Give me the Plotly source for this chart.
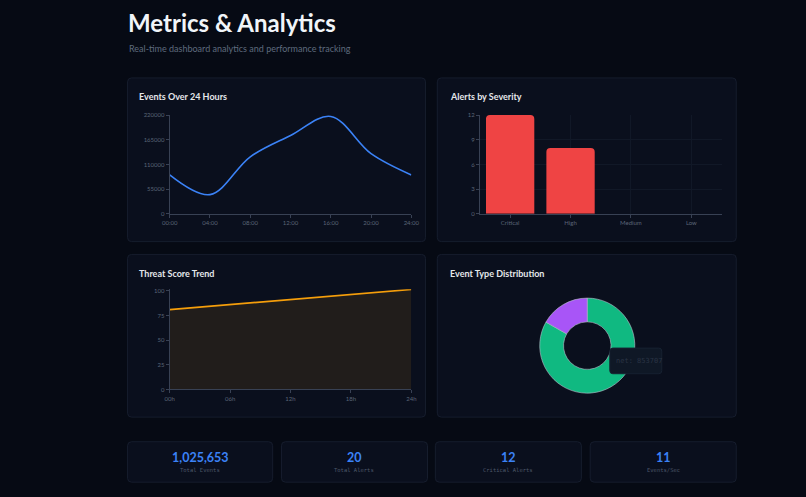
import plotly.graph_objects as go

W, H = 806, 497

# --- data -------------------------------------------------------------
event_hours = [0, 4, 8, 12, 16, 20, 24]
event_hour_labels = ["00:00", "04:00", "08:00", "12:00", "16:00", "20:00", "24:00"]
event_counts = [86500, 42500, 127000, 174500, 217000, 134000, 86500]

severities = ["Critical", "High", "Medium", "Low"]
alert_counts = [12, 8, 0, 0]

threat_hours = [0, 6, 12, 18, 24]
threat_hour_labels = ["00h", "06h", "12h", "18h", "24h"]
threat_scores = [81, 86, 91, 96, 101.5]

event_types = ["net", "system"]
event_type_counts = [853707, 171946]

stat_values = ["1,025,653", "20", "12", "11"]
stat_labels = ["Total Events", "Total Alerts", "Critical Alerts", "Events/Sec"]

# --- colours ----------------------------------------------------------
PAGE_BG = "#060a14"
CARD_BG = "#0a0f1d"
CARD_BORDER = "#161d2d"
AXIS = "#384154"
GRID = "#111827"
TICK_TXT = "#5b6577"
BLUE = "#3b82f6"
RED = "#ef4444"
AMBER = "#f59e0b"
GREEN = "#10b981"
PURPLE = "#a855f7"
FONT = "Lato"
MONO = "DejaVu Sans Mono"


def px(x):
    return x / W


def py(y):
    return 1 - y / H


def rounded_rect(x0, y0, x1, y1, r=4):
    """Rounded rectangle path in paper coords, from pixel corners."""
    pts = [
        ("M", (x0 + r, y0)), ("L", (x1 - r, y0)), ("Q", (x1, y0), (x1, y0 + r)),
        ("L", (x1, y1 - r)), ("Q", (x1, y1), (x1 - r, y1)),
        ("L", (x0 + r, y1)), ("Q", (x0, y1), (x0, y1 - r)),
        ("L", (x0, y0 + r)), ("Q", (x0, y0), (x0 + r, y0)),
    ]
    out = []
    for cmd, *coords in pts:
        out.append(cmd + " " + " ".join(f"{px(a):.5f},{py(b):.5f}" for a, b in coords))
    return " ".join(out) + " Z"


fig = go.Figure()

# Events over 24 hours
fig.add_trace(
    go.Scatter(
        x=event_hours,
        y=event_counts,
        mode="lines",
        line=dict(color=BLUE, width=1.6, shape="spline", smoothing=1.0),
        xaxis="x",
        yaxis="y",
        name="Events",
    )
)

# Alerts by severity
fig.add_trace(
    go.Bar(
        x=severities,
        y=alert_counts,
        marker=dict(color=RED, cornerradius=4, line=dict(width=0)),
        xaxis="x2",
        yaxis="y2",
        name="Alerts",
    )
)

# Threat score trend
fig.add_trace(
    go.Scatter(
        x=threat_hours,
        y=threat_scores,
        mode="lines",
        line=dict(color=AMBER, width=1.6),
        fill="tozeroy",
        fillcolor="rgba(245,158,11,0.10)",
        xaxis="x3",
        yaxis="y3",
        name="Threat",
    )
)

# Event type distribution (green from 12 o'clock clockwise, purple closes the ring)
fig.add_trace(
    go.Pie(
        labels=event_types,
        values=event_type_counts,
        hole=0.5,
        sort=False,
        direction="clockwise",
        rotation=0,
        textinfo="none",
        marker=dict(colors=[GREEN, PURPLE], line=dict(color="#b8c0cc", width=0.6)),
        domain=dict(x=[px(542.5), px(639.5)], y=[py(395), py(298)]),
        showlegend=False,
    )
)

axis_common = dict(
    showline=True,
    linecolor=AXIS,
    linewidth=1,
    ticks="outside",
    ticklen=3,
    tickcolor=AXIS,
    tickfont=dict(family=FONT, size=6, color=TICK_TXT),
    zeroline=False,
    showgrid=False,
)

shapes = []
# chart cards
for x0, y0, x1, y1 in [(122, 75, 426, 241), (438, 75, 743, 241),
                       (122, 254, 426, 419), (438, 254, 743, 419)]:
    shapes.append(dict(type="path", path=rounded_rect(x0, y0, x1, y1), xref="paper", yref="paper",
                       fillcolor=CARD_BG, line=dict(color=CARD_BORDER, width=1), layer="below"))
# stat cards
stat_boxes = [(122, 270), (279, 428), (436, 585), (594, 743)]
for x0, x1 in stat_boxes:
    shapes.append(dict(type="path", path=rounded_rect(x0, 444, x1, 485), xref="paper", yref="paper",
                       fillcolor=CARD_BG, line=dict(color=CARD_BORDER, width=1), layer="below"))
# hover tooltip box on the donut
shapes.append(dict(type="path", path=rounded_rect(614, 349, 667, 375, 3), xref="paper", yref="paper",
                   fillcolor="#0f1826", line=dict(color="#172131", width=1), layer="above"))

annotations = [
    dict(text="<b>Metrics & Analytics</b>", x=px(120), y=py(19), xanchor="left", yanchor="middle",
         font=dict(family=FONT, size=24, color="#f1f5f9")),
    dict(text="Real-time dashboard analytics and performance tracking", x=px(121), y=py(45),
         xanchor="left", yanchor="middle", font=dict(family=FONT, size=9, color="#5f6b7e")),
    dict(text="net: 853707", x=px(618), y=py(362), xanchor="left", yanchor="middle",
         font=dict(family=MONO, size=7, color="#2a3445")),
]
for text, x, y in [("Events Over 24 Hours", 132, 94), ("Alerts by Severity", 449, 94),
                   ("Threat Score Trend", 132, 273), ("Event Type Distribution", 449, 273)]:
    annotations.append(dict(text=f"<b>{text}</b>", x=px(x), y=py(y), xanchor="left", yanchor="middle",
                            font=dict(family=FONT, size=9, color="#e5e7eb")))
for (x0, x1), val, lab in zip(stat_boxes, stat_values, stat_labels):
    xc = px((x0 + x1) / 2)
    annotations.append(dict(text=f"<b>{val}</b>", x=xc, y=py(460), xanchor="center", yanchor="middle",
                            font=dict(family=FONT, size=12.5, color=BLUE)))
    annotations.append(dict(text=lab, x=xc, y=py(473), xanchor="center", yanchor="middle",
                            font=dict(family=MONO, size=5.5, color="#4d5769")))
for a in annotations:
    a.update(xref="paper", yref="paper", showarrow=False)

fig.update_layout(
    width=W,
    height=H,
    margin=dict(l=0, r=0, t=0, b=0),
    paper_bgcolor=PAGE_BG,
    plot_bgcolor="rgba(0,0,0,0)",
    showlegend=False,
    bargap=0.2,
    shapes=shapes,
    annotations=annotations,
    xaxis=dict(axis_common, domain=[px(165), px(411.5)], range=[0, 24], tickvals=event_hours,
               ticktext=event_hour_labels, anchor="y"),
    yaxis=dict(axis_common, domain=[py(212.7), py(112.7)], range=[0, 220000],
               tickvals=[0, 55000, 110000, 165000, 220000], tickformat="d", anchor="x"),
    xaxis2=dict(axis_common, domain=[px(481.5), px(728)], range=[-0.5, 3.5], anchor="y2",
                showgrid=True, gridcolor=GRID),
    yaxis2=dict(axis_common, domain=[py(212.7), py(112.7)], range=[0, 12],
                tickvals=[0, 3, 6, 9, 12], anchor="x2", showgrid=True, gridcolor=GRID),
    xaxis3=dict(axis_common, domain=[px(165), px(411.5)], range=[0, 24], tickvals=threat_hours,
                ticktext=threat_hour_labels, anchor="y3"),
    yaxis3=dict(axis_common, domain=[py(391), py(289.3)], range=[0, 101.7],
                tickvals=[0, 25, 50, 75, 100], anchor="x3"),
)

fig.write_html(
    "out.html",
    config={"displayModeBar": False},
    post_script="document.body.style.margin='0';document.body.style.background='#060a14';",
)
